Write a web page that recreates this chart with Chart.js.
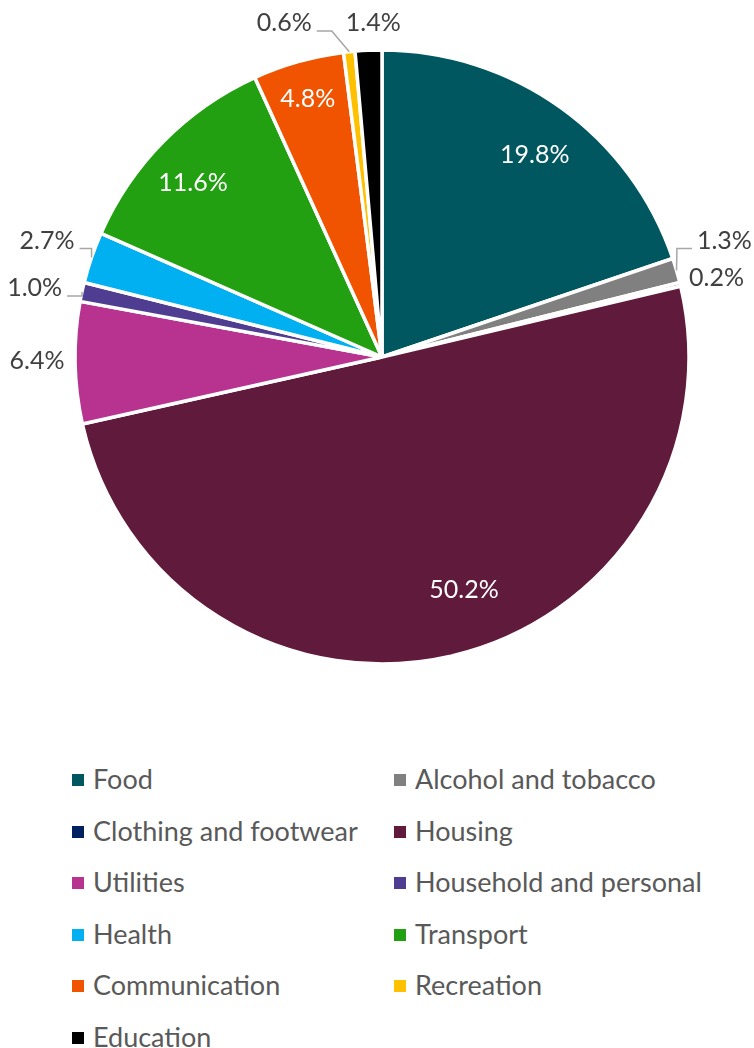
<!DOCTYPE html>
<html>
<head>
<meta charset="utf-8">
<script src="https://cdn.jsdelivr.net/npm/chart.js@4"></script>
<style>
body{margin:0;background:#fff;width:754px;height:1048px;position:relative;overflow:hidden;font-family:Lato,sans-serif}
#grafico{position:absolute;left:0;top:0}
#leyenda{position:absolute;left:0;top:753px;width:754px}
.item{position:absolute;height:52px;line-height:52px;font-size:27px;color:#595959;white-space:nowrap}
.item span{display:inline-block;width:12px;height:12px;margin-right:9px;vertical-align:middle;position:relative;top:-2px}
</style>
</head>
<body>
<canvas id="grafico" width="754" height="714"></canvas>
<div id="leyenda"></div>
<script>
const categorias=["Food","Alcohol and tobacco","Clothing and footwear","Housing","Utilities","Household and personal","Health","Transport","Communication","Recreation","Education"];
const valores=[19.8,1.3,0.2,50.2,6.4,1.0,2.7,11.6,4.8,0.6,1.4];
const colores=["#00575F","#808080","#002060","#5F1A3C","#B7338F","#4E3D91","#00B0F0","#22A012","#F05400","#FFC000","#000000"];

// etiqueta dentro o fuera del sector, con pequeño ajuste y línea guía
const posicion=["in","out","out","in","out","out","out","in","in","out","out"];
const ajuste=[[7,1],[21,-22],[9,0],[26,-11],[-10,-2],[-20,2],[-18,-8],[-11,2],[-6,-17],[-62,-1],[6,1]];
const guia=[false,true,false,false,false,true,true,false,false,true,false];

const etiquetas={
    id:"etiquetas",
    afterDatasetsDraw(chart){
        const ctx=chart.ctx;
        const arcos=chart.getDatasetMeta(0).data;
        ctx.save();
        ctx.font="25px Lato";
        ctx.textAlign="center";
        ctx.textBaseline="middle";
        arcos.forEach((arco,i)=>{
            const p=arco.getProps(["x","y","startAngle","endAngle","outerRadius"],true);
            const medio=(p.startAngle+p.endAngle)/2;
            const cos=Math.cos(medio),sin=Math.sin(medio);
            const r=p.outerRadius-2;
            const texto=valores[i].toFixed(1)+"%";
            let lx,ly;
            if(posicion[i]==="in"){
                lx=p.x+cos*r*0.82+ajuste[i][0];
                ly=p.y+sin*r*0.82+ajuste[i][1];
                ctx.fillStyle="#ffffff";
            }else{
                lx=p.x+cos*(r+30)+ajuste[i][0];
                ly=p.y+sin*(r+30)+ajuste[i][1];
                ctx.fillStyle="#404040";
            }
            ctx.fillText(texto,lx,ly);
            if(guia[i]){
                const lado=cos>=0?1:-1;
                const w=ctx.measureText(texto).width;
                const ex=p.x+cos*(r+2),ey=p.y+sin*(r+2);
                const hy=ly+8;
                const hx=lx-lado*(w/2+5);
                const codo=lado>0?Math.max(ex,hx-15):Math.min(ex,hx+15);
                ctx.beginPath();
                ctx.moveTo(ex,ey);
                ctx.lineTo(codo,hy);
                ctx.lineTo(hx,hy);
                ctx.strokeStyle="#A6A6A6";
                ctx.lineWidth=1.5;
                ctx.stroke();
            }
        });
        ctx.restore();
    }
};

new Chart(document.getElementById("grafico"),{
    type:"pie",
    data:{
        labels:categorias,
        datasets:[{
            data:valores,
            backgroundColor:colores,
            borderColor:"#ffffff",
            borderWidth:3.5,
            radius:307
        }]
    },
    options:{
        responsive:false,
        devicePixelRatio:1,
        animation:false,
        layout:{padding:{left:10}},
        plugins:{legend:{display:false},tooltip:{enabled:false}}
    },
    plugins:[etiquetas]
});

const leyenda=document.getElementById("leyenda");
categorias.forEach((nombre,i)=>{
    const item=document.createElement("div");
    item.className="item";
    item.style.left=(i%2===0?72:394)+"px";
    item.style.top=(Math.floor(i/2)*51.5)+"px";
    item.innerHTML=`<span style="background:${colores[i]}"></span>${nombre}`;
    leyenda.appendChild(item);
});
</script>
</body>
</html>
